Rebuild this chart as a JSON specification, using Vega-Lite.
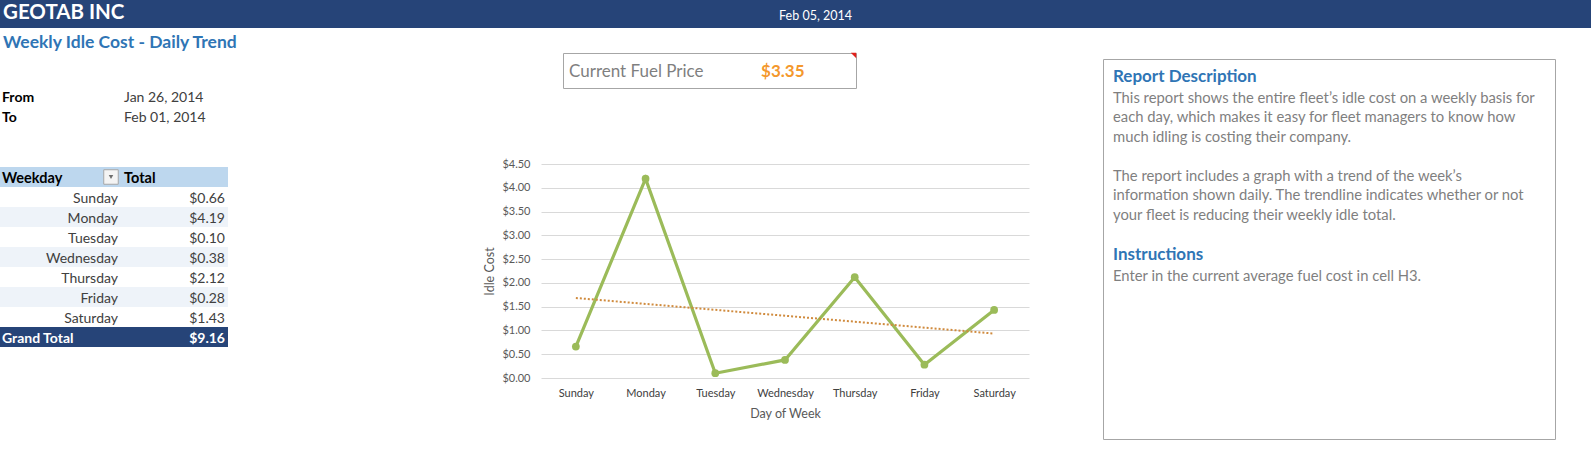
{
  "$schema": "https://vega.github.io/schema/vega-lite/v6.json",
  "padding": 0,
  "background": "white",
  "config": {"font": "Lato", "view": {"stroke": null}},
  "datasets": {
    "idle": [
      {"day": "Sunday", "idx": 1, "cost": 0.66},
      {"day": "Monday", "idx": 2, "cost": 4.19},
      {"day": "Tuesday", "idx": 3, "cost": 0.10},
      {"day": "Wednesday", "idx": 4, "cost": 0.38},
      {"day": "Thursday", "idx": 5, "cost": 2.12},
      {"day": "Friday", "idx": 6, "cost": 0.28},
      {"day": "Saturday", "idx": 7, "cost": 1.43}
    ]
  },
  "spacing": 0,
  "bounds": "full",
  "vconcat": [
    {
      "width": 1591,
      "height": 28,
      "view": {"fill": "#264478", "stroke": null},
      "data": {"values": [{"company": "GEOTAB INC", "reportDate": "Feb 05, 2014"}]},
      "layer": [
        {
          "mark": {"type": "text", "align": "left", "baseline": "middle", "dx": 3, "dy": -1, "fontSize": 20.5, "fontWeight": "bold", "color": "white"},
          "encoding": {
            "text": {"field": "company"},
            "x": {"datum": 0, "type": "quantitative", "scale": {"domain": [0, 1]}, "axis": null}
          }
        },
        {
          "mark": {"type": "text", "align": "center", "baseline": "middle", "dx": 20, "dy": 2, "fontSize": 12.5, "color": "white"},
          "encoding": {
            "text": {"field": "reportDate"},
            "x": {"datum": 0.5, "type": "quantitative", "axis": null}
          }
        }
      ]
    },
    {
      "spacing": 73,
      "bounds": "full",
      "hconcat": [
        {
          "spacing": 0,
          "bounds": "flush",
          "vconcat": [
            {"width": 410, "height": 59, "data": {"values": []}, "mark": "point"},
            {
              "width": 228,
              "height": 39,
              "title": {"text": "Weekly Idle Cost - Daily Trend", "anchor": "start", "fontSize": 17.5, "fontWeight": "bold", "color": "#2F75B5", "offset": 36, "dx": 3, "font": "Lato"},
              "data": {"values": [{"label": "From", "date": "Jan 26, 2014"}, {"label": "To", "date": "Feb 01, 2014"}]},
              "layer": [
                {
                  "mark": {"type": "text", "align": "left", "baseline": "middle", "dx": 2, "dy": 1.5, "fontSize": 14, "fontWeight": "bold", "color": "black"},
                  "encoding": {
                    "text": {"field": "label"},
                    "y": {"field": "label", "type": "nominal", "sort": null, "axis": null, "scale": {"type": "band", "paddingInner": 0, "paddingOuter": 0}},
                    "x": {"datum": "label", "type": "nominal", "bandPosition": 0, "axis": null, "scale": {"type": "band", "domain": ["label", "date"], "paddingInner": 0, "paddingOuter": 0}}
                  }
                },
                {
                  "mark": {"type": "text", "align": "left", "baseline": "middle", "dx": 10, "dy": 1.5, "fontSize": 14, "color": "#404040"},
                  "encoding": {
                    "text": {"field": "date"},
                    "y": {"field": "label", "type": "nominal", "sort": null, "axis": null},
                    "x": {"datum": "date", "type": "nominal", "bandPosition": 0, "axis": null}
                  }
                }
              ]
            },
            {"width": 1, "height": 41, "data": {"values": []}, "mark": "point"},
            {
              "width": 228,
              "height": 20,
              "view": {"fill": "#BDD7EE", "stroke": null},
              "data": {"values": [{"first": "Weekday", "second": "Total"}]},
              "layer": [
                {
                  "mark": {"type": "text", "align": "left", "baseline": "middle", "dx": 2, "dy": 1.5, "fontSize": 14.5, "fontWeight": "bold", "color": "black"},
                  "encoding": {
                    "text": {"field": "first"},
                    "x": {"datum": "Weekday", "type": "nominal", "bandPosition": 0, "axis": null, "scale": {"type": "band", "domain": ["Weekday", "Total"], "paddingInner": 0, "paddingOuter": 0}}
                  }
                },
                {
                  "mark": {"type": "text", "align": "left", "baseline": "middle", "dx": 10, "dy": 1.5, "fontSize": 14.5, "fontWeight": "bold", "color": "black"},
                  "encoding": {
                    "text": {"field": "second"},
                    "x": {"datum": "Total", "type": "nominal", "bandPosition": 0, "axis": null}
                  }
                },
                {
                  "mark": {"type": "point", "shape": "square", "size": 210, "filled": true, "fill": "#F4F4F4", "stroke": "#A6A6A6", "strokeWidth": 1, "opacity": 1, "xOffset": -3},
                  "encoding": {
                    "x": {"datum": "Weekday", "type": "nominal", "bandPosition": 1, "axis": null}
                  }
                },
                {
                  "mark": {"type": "point", "shape": "triangle-down", "size": 20, "filled": true, "color": "#6E6E6E", "opacity": 1, "xOffset": -3},
                  "encoding": {
                    "x": {"datum": "Weekday", "type": "nominal", "bandPosition": 1, "axis": null}
                  }
                }
              ]
            },
            {
              "width": 228,
              "height": 140,
              "data": {"name": "idle"},
              "layer": [
                {
                  "mark": {"type": "rect"},
                  "encoding": {
                    "y": {"field": "day", "type": "nominal", "sort": null, "axis": null, "scale": {"type": "band", "paddingInner": 0, "paddingOuter": 0}},
                    "fill": {"field": "day", "type": "nominal", "sort": null, "legend": null, "scale": {"range": ["#FFFFFF", "#EEF3F9"]}}
                  }
                },
                {
                  "mark": {"type": "text", "align": "right", "baseline": "middle", "dx": 4, "dy": 1.5, "fontSize": 14, "color": "#404040"},
                  "encoding": {
                    "text": {"field": "day"},
                    "y": {"field": "day", "type": "nominal", "sort": null, "axis": null},
                    "x": {"datum": "Weekday", "type": "nominal", "bandPosition": 1, "axis": null, "scale": {"type": "band", "domain": ["Weekday", "Total"], "paddingInner": 0, "paddingOuter": 0}}
                  }
                },
                {
                  "mark": {"type": "text", "align": "right", "baseline": "middle", "dx": -3, "dy": 1.5, "fontSize": 14, "color": "#404040"},
                  "encoding": {
                    "text": {"field": "cost", "type": "quantitative", "format": "$.2f"},
                    "y": {"field": "day", "type": "nominal", "sort": null, "axis": null},
                    "x": {"datum": "Total", "type": "nominal", "bandPosition": 1, "axis": null}
                  }
                }
              ]
            },
            {
              "width": 228,
              "height": 20,
              "view": {"fill": "#264478", "stroke": null},
              "layer": [
                {
                  "data": {"values": [{"label": "Grand Total"}]},
                  "mark": {"type": "text", "align": "left", "baseline": "middle", "dx": 2, "dy": 1.5, "fontSize": 14, "fontWeight": "bold", "color": "white"},
                  "encoding": {
                    "text": {"field": "label"},
                    "x": {"datum": "Weekday", "type": "nominal", "bandPosition": 0, "axis": null, "scale": {"type": "band", "domain": ["Weekday", "Total"], "paddingInner": 0, "paddingOuter": 0}}
                  }
                },
                {
                  "data": {"name": "idle"},
                  "transform": [{"aggregate": [{"op": "sum", "field": "cost", "as": "total"}]}],
                  "mark": {"type": "text", "align": "right", "baseline": "middle", "dx": -3, "dy": 1.5, "fontSize": 14, "fontWeight": "bold", "color": "white"},
                  "encoding": {
                    "text": {"field": "total", "type": "quantitative", "format": "$.2f"},
                    "x": {"datum": "Total", "type": "nominal", "bandPosition": 1, "axis": null}
                  }
                }
              ]
            }
          ]
        },
        {
          "spacing": 0,
          "bounds": "full",
          "vconcat": [
            {"width": 1, "height": 24, "data": {"values": []}, "mark": "point"},
            {
              "spacing": 0,
              "bounds": "flush",
              "hconcat": [
                {"width": 22, "height": 1, "data": {"values": []}, "mark": "point"},
                {
                  "width": 293,
                  "height": 35,
                  "view": {"fill": "white", "stroke": "#A6A6A6"},
                  "data": {"values": [{"label": "Current Fuel Price", "price": 3.35}]},
                  "layer": [
                    {
                      "mark": {"type": "text", "align": "left", "baseline": "middle", "dx": 6, "dy": 1, "fontSize": 17, "color": "#7F7F7F"},
                      "encoding": {
                        "text": {"field": "label"},
                        "x": {"datum": "label", "type": "nominal", "bandPosition": 0, "axis": null, "scale": {"type": "band", "domain": ["label", "price"], "paddingInner": 0, "paddingOuter": 0}}
                      }
                    },
                    {
                      "mark": {"type": "text", "align": "center", "baseline": "middle", "dy": 1, "fontSize": 17, "fontWeight": "bold", "color": "#F4982C"},
                      "encoding": {
                        "text": {"field": "price", "type": "quantitative", "format": "$.2f"},
                        "x": {"datum": "price", "type": "nominal", "bandPosition": 0.5, "axis": null}
                      }
                    },
                    {
                      "mark": {"type": "point", "shape": "M-1,-1L1,-1L1,1Z", "size": 30, "filled": true, "color": "#E0201B", "opacity": 1, "xOffset": -2.5, "yOffset": -15},
                      "encoding": {
                        "x": {"datum": "price", "type": "nominal", "bandPosition": 1, "axis": null}
                      }
                    }
                  ]
                }
              ]
            },
            {"width": 1, "height": 69, "data": {"values": []}, "mark": "point"},
            {
              "width": 488,
              "height": 214,
              "data": {"name": "idle"},
              "encoding": {
                "y": {
                  "field": "cost", "type": "quantitative", "title": "Idle Cost",
                  "scale": {"domain": [0, 4.5], "nice": false},
                  "axis": {"values": [0, 0.5, 1, 1.5, 2, 2.5, 3, 3.5, 4, 4.5], "tickCount": 10, "labelOverlap": false, "format": "$.2f", "labelFontSize": 11, "labelColor": "#595959", "labelPadding": 11, "ticks": false, "domain": false, "grid": true, "gridColor": "#D9D9D9", "titleFontSize": 12.5, "titleFontWeight": "normal", "titleColor": "#595959", "titlePadding": 5}
                }
              },
              "layer": [
                {
                  "mark": {"type": "line", "color": "#9BBB59", "strokeWidth": 3.2, "point": {"filled": true, "size": 60, "color": "#9BBB59", "opacity": 1}},
                  "encoding": {
                    "x": {
                      "field": "day", "type": "nominal", "sort": null, "title": "Day of Week",
                      "axis": {"labelAngle": 0, "labelFontSize": 11, "labelColor": "#404040", "labelPadding": 9, "ticks": false, "domain": false, "grid": false, "titleFontSize": 12.5, "titleFontWeight": "normal", "titleColor": "#595959", "titlePadding": 9}
                    }
                  }
                },
                {
                  "transform": [{"regression": "cost", "on": "idx"}],
                  "mark": {"type": "line", "color": "#D08B3E", "strokeWidth": 2, "strokeDash": [2, 2]},
                  "encoding": {
                    "x": {"field": "idx", "type": "quantitative", "scale": {"domain": [0.5, 7.5]}, "axis": null}
                  }
                }
              ],
              "resolve": {"scale": {"x": "independent"}}
            }
          ]
        },
        {
          "spacing": 0,
          "bounds": "flush",
          "vconcat": [
            {"width": 1, "height": 31, "data": {"values": []}, "mark": "point"},
            {
              "width": 452,
              "height": 380,
              "view": {"fill": "white", "stroke": "#A6A6A6"},
              "data": {"values": [
                {"heading": "Report Description", "body": ["This report shows the entire fleet’s idle cost on a weekly basis for", "each day, which makes it easy for fleet managers to know how", "much idling is costing their company."], "more": ["The report includes a graph with a trend of the week’s", "information shown daily. The trendline indicates whether or not", "your fleet is reducing their weekly idle total."]},
                {"heading": "Instructions", "body": ["Enter in the current average fuel cost in cell H3."]}
              ]},
              "layer": [
                {
                  "mark": {"type": "text", "align": "left", "baseline": "alphabetic", "dx": 10, "dy": 22.5, "fontSize": 17, "fontWeight": "bold", "color": "#2F75B5"},
                  "encoding": {
                    "text": {"field": "heading"},
                    "x": {"datum": 0, "type": "quantitative", "scale": {"domain": [0, 1]}, "axis": null},
                    "y": {"field": "heading", "type": "nominal", "sort": null, "bandPosition": 0, "axis": null, "scale": {"type": "band", "paddingInner": 0, "paddingOuter": 0.0615, "align": 0}}
                  }
                },
                {
                  "mark": {"type": "text", "align": "left", "baseline": "alphabetic", "dx": 10, "dy": 43.5, "fontSize": 14.8, "lineHeight": 19.5, "color": "#7F7F7F"},
                  "encoding": {
                    "text": {"field": "body"},
                    "x": {"datum": 0, "type": "quantitative", "axis": null},
                    "y": {"field": "heading", "type": "nominal", "sort": null, "bandPosition": 0, "axis": null}
                  }
                },
                {
                  "transform": [{"filter": {"field": "heading", "equal": "Report Description"}}],
                  "mark": {"type": "text", "align": "left", "baseline": "alphabetic", "dx": 10, "dy": 121.5, "fontSize": 14.8, "lineHeight": 19.5, "color": "#7F7F7F"},
                  "encoding": {
                    "text": {"field": "more"},
                    "x": {"datum": 0, "type": "quantitative", "axis": null},
                    "y": {"field": "heading", "type": "nominal", "sort": null, "bandPosition": 0, "axis": null}
                  }
                }
              ]
            }
          ]
        }
      ]
    }
  ]
}
